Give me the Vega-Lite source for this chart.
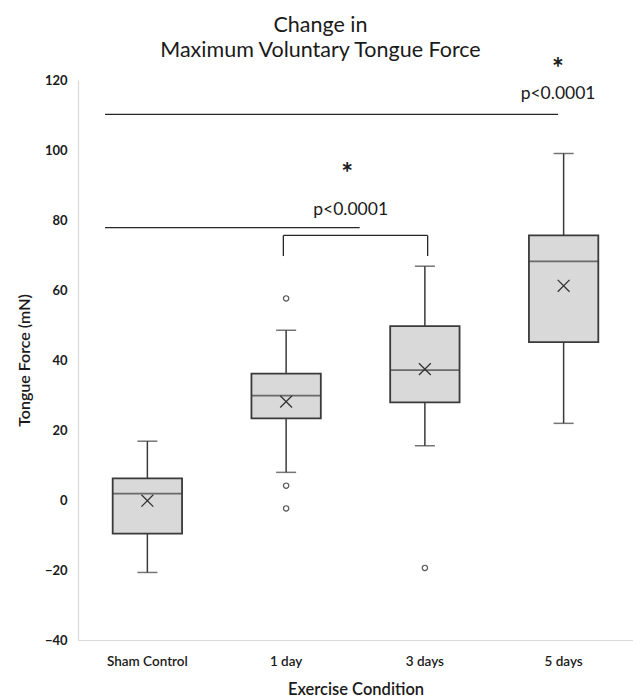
{
  "$schema": "https://vega.github.io/schema/vega-lite/v6.json",
  "width": 555,
  "height": 560,
  "autosize": {"type": "none"},
  "padding": {"left": 78, "top": 80, "right": 0, "bottom": 60},
  "background": "white",
  "title": {
    "text": ["Change in", "Maximum Voluntary Tongue Force"],
    "font": "Lato", "fontSize": 21.5, "fontWeight": "normal", "color": "#1a1a1a",
    "anchor": "middle", "dx": -35, "offset": -5, "lineHeight": 25
  },
  "config": {
    "view": {"stroke": null},
    "font": "Lato",
    "axisY": {"grid": false, "ticks": false, "tickCount": 8, "domainColor": "#d9d9d9", "domainWidth": 1.2, "labelPadding": 11,
              "labelFontSize": 13, "labelFontWeight": "bold", "labelColor": "#1a1a1a",
              "titleFontSize": 16, "titleFontWeight": 600, "titleColor": "#1a1a1a", "titlePadding": 12}
  },
  "datasets": {
    "boxes": [
      {"cond": "Sham Control", "lo": -20.7, "q1": -9.6, "median": 1.8, "q3": 6.2, "hi": 16.8, "mean": -0.2},
      {"cond": "1 day", "lo": 7.9, "q1": 23.3, "median": 29.8, "q3": 36.1, "hi": 48.5, "mean": 28.1},
      {"cond": "3 days", "lo": 15.5, "q1": 27.9, "median": 37.1, "q3": 49.7, "hi": 66.8, "mean": 37.4},
      {"cond": "5 days", "lo": 21.9, "q1": 45.1, "median": 68.2, "q3": 75.6, "hi": 99.0, "mean": 61.2}
    ],
    "outliers": [
      {"cond": "1 day", "value": 57.6},
      {"cond": "1 day", "value": 4.1},
      {"cond": "1 day", "value": -2.4},
      {"cond": "3 days", "value": -19.4}
    ],
    "lines": [
      {"x1": 0.195, "x2": 3.46, "y": 110.2},
      {"x1": 0.195, "x2": 2.03, "y": 77.8},
      {"x1": 1.48, "x2": 2.52, "y": 75.6}
    ],
    "brackets": [
      {"x": 1.48, "y1": 69.7, "y2": 75.6},
      {"x": 2.52, "y1": 69.7, "y2": 75.6}
    ],
    "labels": [
      {"x": 3.46, "y": 116.0, "label": "p<0.0001"},
      {"x": 1.965, "y": 82.9, "label": "p<0.0001"}
    ],
    "stars": [
      {"x": 3.46, "y": 124.8, "label": "*"},
      {"x": 1.94, "y": 95.0, "label": "*"}
    ]
  },
  "layer": [
    {
      "layer": [
        {
          "data": {"name": "boxes"},
          "mark": {"type": "rule", "color": "#3a3a3a", "strokeWidth": 1.5},
          "encoding": {
            "x": {"field": "cond", "type": "nominal",
                  "scale": {"domain": ["Sham Control", "1 day", "3 days", "5 days"], "paddingInner": 0.5, "paddingOuter": 0.25},
                  "axis": {"title": "Exercise Condition", "labelAngle": 0, "domainColor": "#d9d9d9", "domainWidth": 1.2, "ticks": false,
                           "labelPadding": 14, "labelFontSize": 13.5, "labelFontWeight": 600, "labelColor": "#1a1a1a",
                           "titleFontSize": 16.5, "titleFontWeight": 600, "titleColor": "#1a1a1a", "titlePadding": 14}},
            "y": {"field": "lo", "type": "quantitative", "title": "Tongue Force (mN)",
                  "scale": {"domain": [-40, 120], "nice": false, "zero": false}},
            "y2": {"field": "hi"}
          }
        },
        {
          "data": {"name": "boxes"},
          "mark": {"type": "tick", "color": "#3a3a3a", "size": 20, "thickness": 1.5},
          "encoding": {
            "x": {"field": "cond", "type": "nominal"},
            "y": {"field": "lo", "type": "quantitative", "title": "Tongue Force (mN)"}
          }
        },
        {
          "data": {"name": "boxes"},
          "mark": {"type": "tick", "color": "#3a3a3a", "size": 20, "thickness": 1.5},
          "encoding": {
            "x": {"field": "cond", "type": "nominal"},
            "y": {"field": "hi", "type": "quantitative", "title": "Tongue Force (mN)"}
          }
        },
        {
          "data": {"name": "boxes"},
          "mark": {"type": "bar", "fill": "#d9d9d9", "stroke": "#3a3a3a", "strokeWidth": 1.8},
          "encoding": {
            "x": {"field": "cond", "type": "nominal"},
            "y": {"field": "q1", "type": "quantitative", "title": "Tongue Force (mN)"},
            "y2": {"field": "q3"}
          }
        },
        {
          "data": {"name": "boxes"},
          "mark": {"type": "tick", "color": "#3a3a3a", "size": 69, "thickness": 1.8},
          "encoding": {
            "x": {"field": "cond", "type": "nominal"},
            "y": {"field": "median", "type": "quantitative", "title": "Tongue Force (mN)"}
          }
        },
        {
          "data": {"name": "boxes"},
          "mark": {"type": "point", "shape": "M-1,-1L1,1M-1,1L1,-1", "size": 140, "filled": false, "stroke": "#333333", "strokeWidth": 1.3, "opacity": 1},
          "encoding": {
            "x": {"field": "cond", "type": "nominal"},
            "y": {"field": "mean", "type": "quantitative", "title": "Tongue Force (mN)"}
          }
        },
        {
          "data": {"name": "outliers"},
          "mark": {"type": "point", "shape": "circle", "size": 28, "filled": false, "stroke": "#555555", "strokeWidth": 1.2, "opacity": 1},
          "encoding": {
            "x": {"field": "cond", "type": "nominal"},
            "y": {"field": "value", "type": "quantitative", "title": "Tongue Force (mN)"}
          }
        }
      ]
    },
    {
      "layer": [
        {
          "data": {"name": "lines"},
          "mark": {"type": "rule", "color": "#262626", "strokeWidth": 1.3},
          "encoding": {
            "x": {"field": "x1", "type": "quantitative", "scale": {"domain": [0, 4], "nice": false, "zero": false}, "axis": null},
            "x2": {"field": "x2"},
            "y": {"field": "y", "type": "quantitative", "title": "Tongue Force (mN)"}
          }
        },
        {
          "data": {"name": "brackets"},
          "mark": {"type": "rule", "color": "#262626", "strokeWidth": 1.3},
          "encoding": {
            "x": {"field": "x", "type": "quantitative", "axis": null},
            "y": {"field": "y1", "type": "quantitative", "title": "Tongue Force (mN)"},
            "y2": {"field": "y2"}
          }
        },
        {
          "data": {"name": "labels"},
          "mark": {"type": "text", "fontSize": 17.5, "color": "#1a1a1a", "baseline": "middle", "align": "center"},
          "encoding": {
            "x": {"field": "x", "type": "quantitative", "axis": null},
            "y": {"field": "y", "type": "quantitative", "title": "Tongue Force (mN)"},
            "text": {"field": "label"}
          }
        },
        {
          "data": {"name": "stars"},
          "mark": {"type": "text", "fontSize": 28, "fontWeight": "bold", "color": "#1a1a1a", "baseline": "middle", "align": "center", "dy": 7},
          "encoding": {
            "x": {"field": "x", "type": "quantitative", "axis": null},
            "y": {"field": "y", "type": "quantitative", "title": "Tongue Force (mN)"},
            "text": {"field": "label"}
          }
        }
      ]
    }
  ],
  "resolve": {"scale": {"x": "independent"}}
}
